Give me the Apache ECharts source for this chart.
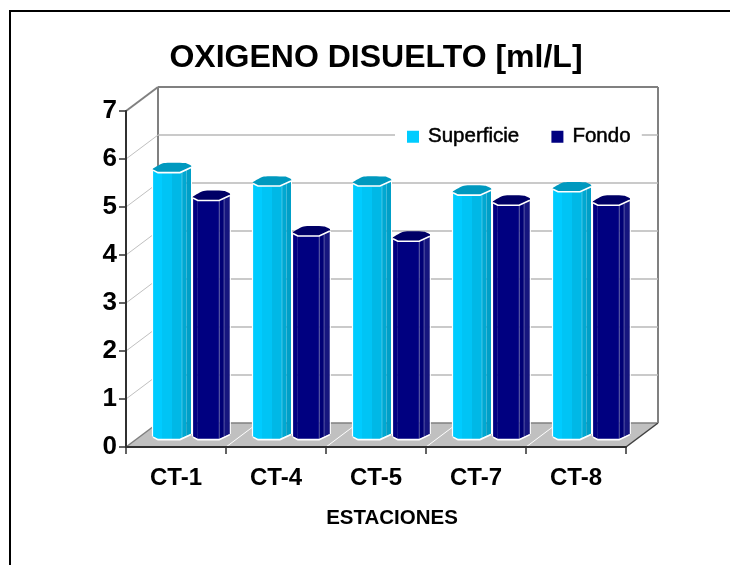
<!DOCTYPE html>
<html>
<head>
<meta charset="utf-8">
<style>html,body{margin:0;padding:0;background:#fff}#c{width:730px;height:565px}</style>
<script src="https://cdn.jsdelivr.net/npm/echarts@6/dist/echarts.min.js"></script>
</head>
<body>
<div id="c"></div>
<script>
const categories = ['CT-1', 'CT-4', 'CT-5', 'CT-7', 'CT-8'];
const superficie = [5.55, 5.27, 5.27, 5.08, 5.15];
const fondo = [4.97, 4.23, 4.12, 4.87, 4.87];
const yTicks = [0, 1, 2, 3, 4, 5, 6, 7];

const FONT = '"Liberation Sans", Arial, sans-serif';
const WALL_DX = 32, WALL_DY = -24;      // depth of the 3D box
const BAR_DY = -8;                      // where the bars stand in that depth

function wallItem(params, api) {
  const t = api.value(1);
  const band = api.size([1, 0])[0];
  const p = api.coord([0, t]);
  const xl = p[0] - band / 2, y = p[1];
  const xr = api.coord([categories.length - 1, t])[0] + band / 2;
  const yb = api.coord([0, 0])[1];
  const yt = api.coord([0, yTicks[yTicks.length - 1]])[1];
  const ln = (x1, y1, x2, y2, c, w) => ({
    type: 'line', shape: { x1, y1, x2, y2 }, style: { stroke: c, lineWidth: w }
  });
  const ch = [];
  if (t === 0) {
    ch.push({ type: 'polygon', shape: { points: [[xl, yb], [xr, yb], [xr + WALL_DX, yb + WALL_DY], [xl + WALL_DX, yb + WALL_DY]] }, style: { fill: '#C0C0C0' } });
    for (let i = 1; i < categories.length; i++) {
      const x = xl + band * i;
      ch.push(ln(x, yb, x + WALL_DX, yb + WALL_DY, '#FFFFFF', 1));
    }
    ch.push(ln(xl + WALL_DX, yb + WALL_DY, xr + WALL_DX, yb + WALL_DY, '#808080', 1.5));
    ch.push(ln(xr, yb, xr + WALL_DX, yb + WALL_DY, '#404040', 1.5));
    ch.push(ln(xl, yb, xl + WALL_DX, yb + WALL_DY, '#808080', 1.5));
    ch.push(ln(xl + WALL_DX, yb + WALL_DY, xl + WALL_DX, yt + WALL_DY, '#808080', 2));
    ch.push(ln(xr + WALL_DX, yb + WALL_DY, xr + WALL_DX, yt + WALL_DY, '#808080', 2));
  } else if (t === yTicks[yTicks.length - 1]) {
    ch.push(ln(xl, y, xl + WALL_DX, y + WALL_DY, '#808080', 2));
    ch.push(ln(xl + WALL_DX, y + WALL_DY, xr + WALL_DX, y + WALL_DY, '#808080', 2));
  } else {
    ch.push(ln(xl, y, xl + WALL_DX, y + WALL_DY, '#C0C0C0', 1));
    ch.push(ln(xl + WALL_DX, y + WALL_DY, xr + WALL_DX, y + WALL_DY, '#B8B8B8', 1.3));
  }
  return { type: 'group', children: ch };
}

// cross-section of a column, as seen in perspective
const FRONT = [[0, -2.5], [5, 0], [27, 0], [38, -5]];
const BACK = [[38, -7], [32, -9.5], [11, -9.5], [0, -4]];
function frontDy(x) {
  for (let i = 0; i < FRONT.length - 1; i++) {
    const a = FRONT[i], b = FRONT[i + 1];
    if (x <= b[0]) return a[1] + (b[1] - a[1]) * (x - a[0]) / (b[0] - a[0]);
  }
  return FRONT[FRONT.length - 1][1];
}

function barItem(offset, scale, stripes, topColor, sep) {
  return function (params, api) {
    const i = api.value(0), v = api.value(1);
    const band = api.size([1, 0])[0];
    const x0 = api.coord([i, 0])[0] + band * offset;
    const yb = api.coord([i, 0])[1] + BAR_DY;
    const yt = api.coord([i, v])[1] + BAR_DY;
    const ch = [];
    stripes.forEach(s => {
      ch.push({
        type: 'polygon',
        shape: { points: [[x0 + s[0] * scale, yt + frontDy(s[0])], [x0 + s[1] * scale, yt + frontDy(s[1])], [x0 + s[1] * scale, yb + frontDy(s[1])], [x0 + s[0] * scale, yb + frontDy(s[0])]] },
        style: { fill: s[2] }
      });
    });
    sep.forEach(x => ch.push({ type: 'line', shape: { x1: x0 + x * scale, y1: yt + frontDy(x), x2: x0 + x * scale, y2: yb + frontDy(x) }, style: { stroke: '#FFFFFF', opacity: 0.28, lineWidth: 1 } }));
    ch.push({
      type: 'polygon',
      shape: { points: FRONT.concat(BACK).map(p => [x0 + p[0] * scale, yt + p[1]]), smooth: 0.2 },
      style: { fill: topColor }
    });
    const edge = { stroke: '#FFFFFF', lineWidth: 1.6, fill: 'none' };
    ch.push({ type: 'polyline', shape: { points: FRONT.map(p => [x0 + p[0] * scale, yt + p[1]]) }, style: edge });
    ch.push({ type: 'polyline', shape: { points: FRONT.map(p => [x0 + p[0] * scale, yb + p[1] + 0.6]) }, style: edge });
    ch.push({ type: 'line', shape: { x1: x0 - 0.5, y1: yt + FRONT[0][1], x2: x0 - 0.5, y2: yb + FRONT[0][1] }, style: { stroke: '#FFFFFF', lineWidth: 1.2 } });
    ch.push({ type: 'line', shape: { x1: x0 + 38 * scale + 0.5, y1: yt + FRONT[3][1], x2: x0 + 38 * scale + 0.5, y2: yb + FRONT[3][1] }, style: { stroke: '#FFFFFF', lineWidth: 1 } });
    return { type: 'group', children: ch };
  };
}

const cyanStripes = [
  [0, 5, '#00CCFF'], [5, 9, '#00CCFF'], [9, 19, '#00C4F5'], [19, 27, '#00B8E6'],
  [27, 29, '#00B8E6'], [29, 33.5, '#00A8D2'], [33.5, 38, '#009FC7']
];
const navyStripes = [
  [0, 5, '#000080'], [5, 27, '#000080'], [27, 32, '#000074'], [32, 38, '#16167F']
];

const chart = echarts.init(document.getElementById('c'), null, { renderer: 'canvas' });
chart.setOption({
  animation: false,
  backgroundColor: '#FFFFFF',
  title: [
    { text: 'OXIGENO DISUELTO [ml/L]', left: 376, top: 42, textAlign: 'center', padding: 0,
      textStyle: { fontFamily: FONT, fontSize: 32, fontWeight: 'bold', color: '#000' } },
    { text: 'ESTACIONES', left: 392, top: 508, textAlign: 'center', padding: 0,
      textStyle: { fontFamily: FONT, fontSize: 20.5, fontWeight: 'bold', color: '#000' } }
  ],
  legend: {
    left: 395, top: 120, padding: [6, 11, 6, 12], itemGap: 32, itemWidth: 12, itemHeight: 12,
    icon: 'rect', backgroundColor: '#FFFFFF', selectedMode: false,
    data: ['Superficie', 'Fondo'],
    textStyle: { fontFamily: FONT, fontSize: 20.5, color: '#000', padding: [0, 0, 0, 4],
      textBorderColor: '#000', textBorderWidth: 0.5 }
  },
  grid: { left: 126, right: 104, top: 111, bottom: 118 },
  xAxis: {
    type: 'category', data: categories,
    axisLine: { lineStyle: { color: '#303030', width: 2 } },
    axisTick: { show: true, alignWithLabel: false, length: 7, lineStyle: { color: '#303030', width: 1.5 } },
    axisLabel: { fontFamily: FONT, fontSize: 24, fontWeight: 'bold', color: '#000', margin: 19 },
    splitLine: { show: false }
  },
  yAxis: {
    type: 'value', min: 0, max: 7, interval: 1,
    axisLine: { show: true, lineStyle: { color: '#303030', width: 2 } },
    axisTick: { show: true, length: 7, lineStyle: { color: '#303030', width: 1.5 } },
    axisLabel: { fontFamily: FONT, fontSize: 26, fontWeight: 'bold', color: '#000', margin: 9 },
    splitLine: { show: false }
  },
  graphic: [
    { type: 'line', z: 10, shape: { x1: 10, y1: 11, x2: 730, y2: 11 }, style: { stroke: '#000', lineWidth: 2 } },
    { type: 'line', z: 10, shape: { x1: 10, y1: 10, x2: 10, y2: 565 }, style: { stroke: '#000', lineWidth: 2 } }
  ],
  series: [
    { type: 'custom', name: 'walls', z: -1, silent: true, renderItem: wallItem,
      data: yTicks.map(t => [0, t]), encode: { x: 0, y: 1 } },
    { type: 'custom', name: 'Superficie', z: 2, itemStyle: { color: '#00CCFF' },
      renderItem: barItem(-0.23, 1, cyanStripes, '#0099BF', [29]),
      data: superficie.map((v, i) => [i, v]), encode: { x: 0, y: 1 } },
    { type: 'custom', name: 'Fondo', z: 2, itemStyle: { color: '#000080' },
      renderItem: barItem(0.17, 0.97, navyStripes, '#000066', [27, 32]),
      data: fondo.map((v, i) => [i, v]), encode: { x: 0, y: 1 } }
  ]
});
</script>
</body>
</html>
